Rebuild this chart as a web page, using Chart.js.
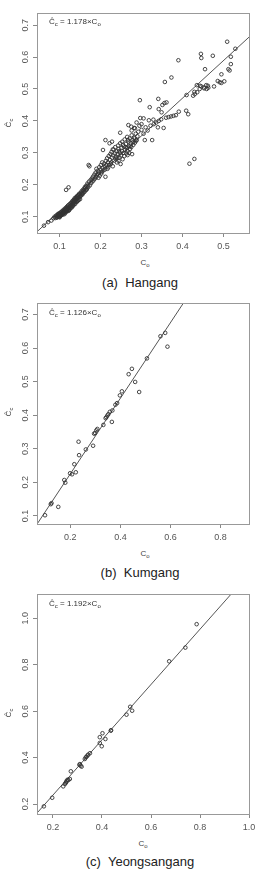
<!DOCTYPE html>
<html>

<head>
  <title>Cc vs Co scatter</title>
  <script src="https://cdn.jsdelivr.net/npm/chart.js"></script>
  <style>
    body { margin: 0; width: 255px; height: 869px; position: relative; overflow: hidden; background: #fff;
      font-family: "Liberation Sans", Arial, sans-serif; color: #444; }
    canvas { position: absolute; left: 0; }
    .lbl { position: absolute; white-space: nowrap; }
    .cap { font-size: 13px; color: #222; transform: translate(-50%, -50%); }
    .ttl { font-size: 8px; transform: translate(-50%, -50%); }
    .ytl { font-size: 8px; transform: translate(-50%, -50%) rotate(-90deg); }
    .eq { font-size: 8px; color: #333; transform: translateY(-50%); }
    sub { font-size: 6px; vertical-align: -2px; line-height: 0; }
  </style>
</head>

<body>
  <canvas id="c1" width="255" height="256" style="top:0px"></canvas>
  <canvas id="c2" width="255" height="256" style="top:290px"></canvas>
  <canvas id="c3" width="255" height="256" style="top:581px"></canvas>

  <div class="lbl eq" style="left:49px;top:21px">Ĉ<sub>c</sub> = 1.178×C<sub>o</sub></div>
  <div class="lbl ttl" style="left:145px;top:262px">C<sub>o</sub></div>
  <div class="lbl ytl" style="left:8px;top:123px">Ĉ<sub>c</sub></div>
  <div class="lbl cap" style="left:140px;top:282px">(a)&nbsp; Hangang</div>

  <div class="lbl eq" style="left:49px;top:312px">Ĉ<sub>c</sub> = 1.126×C<sub>o</sub></div>
  <div class="lbl ttl" style="left:145px;top:553px">C<sub>o</sub></div>
  <div class="lbl ytl" style="left:8px;top:412px">Ĉ<sub>c</sub></div>
  <div class="lbl cap" style="left:140px;top:572px">(b)&nbsp; Kumgang</div>

  <div class="lbl eq" style="left:49px;top:603px">Ĉ<sub>c</sub> = 1.192×C<sub>o</sub></div>
  <div class="lbl ttl" style="left:143px;top:843px">C<sub>o</sub></div>
  <div class="lbl ytl" style="left:8px;top:713px">Ĉ<sub>c</sub></div>
  <div class="lbl cap" style="left:140px;top:861px">(c)&nbsp; Yeongsangang</div>

  <script>
    var hangangPoints = [
      [0.062,0.072],[0.072,0.083],[0.080,0.088],[0.085,0.095],[0.088,0.100],[0.090,0.096],[0.092,0.104],
      [0.093,0.097],[0.094,0.099],[0.095,0.102],[0.096,0.108],[0.097,0.101],[0.097,0.105],[0.098,0.110],
      [0.099,0.104],[0.099,0.100],[0.100,0.098],[0.100,0.106],[0.101,0.107],[0.101,0.101],[0.102,0.112],
      [0.103,0.103],[0.103,0.108],[0.104,0.109],[0.104,0.113],[0.105,0.115],[0.106,0.106],[0.106,0.110],
      [0.107,0.112],[0.108,0.118],[0.108,0.107],[0.109,0.110],[0.109,0.116],[0.110,0.114],[0.111,0.121],
      [0.111,0.112],[0.112,0.108],[0.112,0.119],[0.113,0.117],[0.114,0.124],[0.114,0.115],[0.115,0.113],
      [0.115,0.122],[0.116,0.120],[0.116,0.184],[0.117,0.127],[0.117,0.117],[0.118,0.118],[0.118,0.125],
      [0.119,0.131],[0.120,0.123],[0.120,0.130],[0.121,0.135],[0.121,0.118],[0.122,0.128],[0.122,0.192],
      [0.123,0.120],[0.123,0.127],[0.124,0.132],[0.124,0.122],[0.125,0.139],[0.126,0.126],[0.126,0.133],
      [0.127,0.136],[0.127,0.128],[0.128,0.142],[0.129,0.131],[0.129,0.137],[0.130,0.145],[0.130,0.129],
      [0.131,0.138],[0.132,0.150],[0.132,0.141],[0.133,0.134],[0.133,0.146],[0.134,0.143],[0.135,0.153],
      [0.135,0.138],[0.136,0.147],[0.136,0.151],[0.137,0.158],[0.138,0.140],[0.138,0.145],[0.139,0.150],
      [0.139,0.155],[0.140,0.161],[0.141,0.154],[0.141,0.149],[0.142,0.146],[0.143,0.165],[0.143,0.158],
      [0.144,0.157],[0.145,0.150],[0.145,0.162],[0.146,0.168],[0.147,0.160],[0.147,0.153],[0.148,0.172],
      [0.149,0.163],[0.149,0.170],[0.150,0.155],[0.151,0.165],[0.152,0.175],[0.153,0.167],[0.154,0.180],
      [0.155,0.172],[0.156,0.170],[0.157,0.184],[0.158,0.175],[0.159,0.180],[0.160,0.188],[0.161,0.178],
      [0.162,0.193],[0.163,0.190],[0.164,0.183],[0.165,0.197],[0.166,0.185],[0.167,0.188],[0.168,0.204],
      [0.169,0.198],[0.170,0.193],[0.171,0.262],[0.173,0.258],[0.172,0.210],[0.174,0.198],[0.176,0.215],
      [0.177,0.205],[0.179,0.220],[0.180,0.210],[0.182,0.226],[0.183,0.214],[0.185,0.232],[0.186,0.219],
      [0.188,0.238],[0.189,0.224],[0.190,0.250],[0.191,0.230],[0.193,0.244],[0.194,0.235],[0.195,0.222],
      [0.196,0.241],[0.197,0.255],[0.198,0.228],[0.200,0.248],[0.201,0.262],[0.202,0.235],[0.203,0.240],
      [0.204,0.270],[0.205,0.253],[0.206,0.309],[0.207,0.245],[0.209,0.266],[0.210,0.258],[0.211,0.248],
      [0.212,0.225],[0.212,0.340],[0.213,0.275],[0.214,0.262],[0.216,0.283],[0.217,0.250],[0.218,0.270],
      [0.219,0.255],[0.220,0.290],[0.221,0.262],[0.222,0.330],[0.223,0.278],[0.224,0.296],[0.225,0.265],
      [0.226,0.270],[0.227,0.303],[0.228,0.285],[0.228,0.335],[0.230,0.258],[0.230,0.311],[0.231,0.292],
      [0.232,0.310],[0.234,0.276],[0.235,0.298],[0.236,0.318],[0.237,0.282],[0.238,0.288],[0.239,0.305],
      [0.240,0.270],[0.241,0.283],[0.242,0.296],[0.243,0.323],[0.244,0.312],[0.244,0.275],[0.245,0.305],
      [0.246,0.285],[0.247,0.300],[0.248,0.330],[0.248,0.363],[0.249,0.265],[0.250,0.292],[0.251,0.315],
      [0.252,0.306],[0.253,0.335],[0.254,0.280],[0.255,0.325],[0.256,0.300],[0.257,0.320],[0.258,0.290],
      [0.259,0.342],[0.260,0.310],[0.261,0.318],[0.262,0.328],[0.263,0.298],[0.264,0.315],[0.265,0.350],
      [0.266,0.305],[0.266,0.293],[0.267,0.340],[0.268,0.335],[0.268,0.387],[0.269,0.320],[0.270,0.300],
      [0.271,0.345],[0.272,0.312],[0.273,0.322],[0.274,0.330],[0.275,0.318],[0.275,0.382],[0.276,0.355],
      [0.276,0.370],[0.277,0.296],[0.278,0.340],[0.279,0.333],[0.280,0.325],[0.282,0.348],[0.282,0.378],
      [0.283,0.345],[0.284,0.332],[0.284,0.377],[0.286,0.360],[0.287,0.338],[0.288,0.340],[0.288,0.395],
      [0.290,0.352],[0.292,0.366],[0.295,0.385],[0.296,0.465],[0.297,0.409],[0.300,0.372],[0.300,0.390],
      [0.305,0.360],[0.305,0.408],[0.308,0.340],[0.310,0.380],[0.315,0.370],[0.318,0.402],[0.320,0.443],
      [0.322,0.385],[0.326,0.340],[0.329,0.404],[0.330,0.390],[0.336,0.395],[0.340,0.380],[0.341,0.469],
      [0.342,0.437],[0.342,0.400],[0.348,0.405],[0.349,0.427],[0.351,0.450],[0.354,0.378],[0.356,0.456],
      [0.357,0.522],[0.360,0.410],[0.361,0.458],[0.366,0.412],[0.372,0.414],[0.373,0.536],[0.378,0.416],
      [0.384,0.418],[0.390,0.590],[0.391,0.429],[0.409,0.432],[0.410,0.481],[0.414,0.421],[0.417,0.266],
      [0.426,0.479],[0.429,0.281],[0.429,0.491],[0.430,0.484],[0.435,0.512],[0.436,0.490],[0.442,0.500],
      [0.443,0.510],[0.445,0.610],[0.446,0.597],[0.446,0.508],[0.452,0.505],[0.453,0.502],[0.455,0.562],
      [0.458,0.512],[0.459,0.500],[0.462,0.510],[0.463,0.504],[0.474,0.604],[0.477,0.508],[0.486,0.525],
      [0.491,0.521],[0.495,0.519],[0.495,0.546],[0.502,0.524],[0.509,0.648],[0.512,0.562],[0.515,0.558],
      [0.518,0.601],[0.518,0.578],[0.529,0.626]
    ];
    var kumgangPoints = [
      [0.099,0.102],[0.122,0.135],[0.125,0.138],[0.152,0.127],[0.176,0.207],[0.180,0.199],[0.199,0.227],
      [0.207,0.224],[0.216,0.254],[0.222,0.230],[0.233,0.321],[0.235,0.281],[0.262,0.298],[0.291,0.309],
      [0.295,0.345],[0.299,0.347],[0.304,0.355],[0.308,0.359],[0.332,0.371],[0.341,0.391],[0.344,0.394],
      [0.348,0.399],[0.352,0.403],[0.358,0.410],[0.366,0.380],[0.368,0.414],[0.380,0.431],[0.387,0.436],
      [0.398,0.459],[0.406,0.471],[0.433,0.522],[0.446,0.538],[0.459,0.499],[0.475,0.469],[0.506,0.569],
      [0.560,0.635],[0.579,0.645],[0.588,0.604]
    ];
    var yeongsanPoints = [
      [0.163,0.190],[0.197,0.227],[0.242,0.276],[0.249,0.286],[0.252,0.291],[0.254,0.294],[0.256,0.300],
      [0.260,0.305],[0.263,0.303],[0.269,0.308],[0.273,0.341],[0.308,0.369],[0.310,0.372],[0.313,0.365],
      [0.317,0.361],[0.330,0.394],[0.334,0.401],[0.337,0.404],[0.341,0.409],[0.344,0.413],[0.351,0.419],
      [0.391,0.463],[0.399,0.449],[0.391,0.488],[0.402,0.505],[0.414,0.480],[0.436,0.516],[0.437,0.518],
      [0.500,0.585],[0.515,0.619],[0.523,0.602],[0.674,0.815],[0.740,0.874],[0.786,0.975]
    ];

    // fitted slopes C_c = k * C_o
    var slopes = [1.178, 1.126, 1.192];

    // axis ranges and tick labels
    var xRange1 = [0.045, 0.565], yRange1 = [0.049, 0.738];
    var xRange2 = [0.067, 0.918], yRange2 = [0.076, 0.734];
    var xRange3 = [0.135, 1.004], yRange3 = [0.157, 1.105];
    var xTicks1 = [0.1, 0.2, 0.3, 0.4, 0.5], yTicks1 = [0.1, 0.2, 0.3, 0.4, 0.5, 0.6, 0.7];
    var xTicks2 = [0.2, 0.4, 0.6, 0.8], yTicks2 = [0.1, 0.2, 0.3, 0.4, 0.5, 0.6, 0.7];
    var xTicks3 = [0.2, 0.4, 0.6, 0.8, 1.0], yTicks3 = [0.2, 0.4, 0.6, 0.8, 1.0];

    var FONT = '"Liberation Sans", Arial, sans-serif';

    // R style box + rotated y tick labels
    var rBox = {
      id: 'rBox',
      afterDraw: function (chart) {
        var a = chart.chartArea, ctx = chart.ctx, ys = chart.scales.y;
        ctx.save();
        ctx.strokeStyle = '#999';
        ctx.lineWidth = 1;
        ctx.strokeRect(Math.round(a.left) + 0.5, Math.round(a.top) + 0.5,
          Math.round(a.right - a.left) - 1, Math.round(a.bottom - a.top));
        ctx.fillStyle = '#555';
        ctx.font = '9px ' + FONT;
        ctx.textAlign = 'center';
        ctx.textBaseline = 'middle';
        ys.ticks.forEach(function (t) {
          var py = ys.getPixelForValue(t.value);
          ctx.save();
          ctx.translate(a.left - 11, py);
          ctx.rotate(-Math.PI / 2);
          ctx.fillText(t.value.toFixed(1), 0, 0);
          ctx.restore();
        });
        ctx.restore();
      }
    };

    function makeChart(id, points, k, xr, yr, xt, yt, box) {
      var cv = document.getElementById(id);
      var W = cv.width, H = cv.height;
      return new Chart(cv.getContext('2d'), {
        type: 'scatter',
        data: {
          datasets: [{
            data: points.map(function (p) { return { x: p[0], y: p[1] }; }),
            pointRadius: 1.8,
            borderWidth: 0.9,
            borderColor: '#333',
            backgroundColor: 'rgba(0,0,0,0)'
          }, {
            type: 'line',
            data: [{ x: xr[0], y: k * xr[0] }, { x: xr[1], y: k * xr[1] }],
            borderColor: '#555',
            borderWidth: 1,
            pointRadius: 0,
            fill: false
          }]
        },
        options: {
          responsive: false,
          animation: false,
          events: [],
          layout: { padding: { left: 0, top: box[1], right: W - box[2], bottom: 0 } },
          plugins: { legend: { display: false }, tooltip: { enabled: false } },
          scales: {
            x: {
              type: 'linear', min: xr[0], max: xr[1],
              afterBuildTicks: function (s) { s.ticks = xt.map(function (v) { return { value: v }; }); },
              afterFit: function (s) { s.height = H - box[3]; s.paddingLeft = 0; s.paddingRight = 0; },
              ticks: {
                autoSkip: false, maxRotation: 0, padding: 4, color: '#555',
                font: { size: 9, family: FONT },
                callback: function (v) { return v.toFixed(1); }
              },
              grid: { drawOnChartArea: false, tickLength: 4, color: '#888' },
              border: { display: false }
            },
            y: {
              type: 'linear', min: yr[0], max: yr[1],
              afterBuildTicks: function (s) { s.ticks = yt.map(function (v) { return { value: v }; }); },
              afterFit: function (s) { s.width = box[0]; s.paddingTop = 0; s.paddingBottom = 0; },
              ticks: { display: false },
              grid: { drawOnChartArea: false, tickLength: 4, color: '#888' },
              border: { display: false }
            }
          }
        },
        plugins: [rBox]
      });
    }

    // box = [left, top, right, bottom] of plot area inside each canvas
    makeChart('c1', hangangPoints, slopes[0], xRange1, yRange1, xTicks1, yTicks1, [37, 13, 255, 233]);
    makeChart('c2', kumgangPoints, slopes[1], xRange2, yRange2, xTicks2, yTicks2, [37, 13, 255, 234]);
    makeChart('c3', yeongsanPoints, slopes[2], xRange3, yRange3, xTicks3, yTicks3, [37, 13, 252, 233]);
  </script>
</body>

</html>
